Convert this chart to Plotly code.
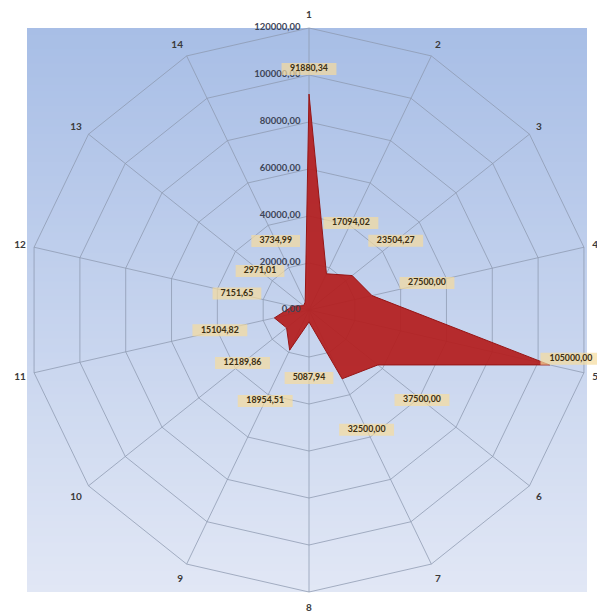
import plotly.graph_objects as go

# Categories and values
categories = [str(i) for i in range(1, 15)]
values = [91880.34, 17094.02, 23504.27, 27500.00, 105000.00, 37500.00, 32500.00,
          5087.94, 18954.51, 12189.86, 15104.82, 7151.65, 2971.01, 3734.99]

# Radial axis ticks
radial_ticks = [0, 20000, 40000, 60000, 80000, 100000, 120000]

# Data-label placement: extra radius beyond each point, and small angular nudges (degrees)
label_pad = [10700, 24000, 23700, 24000, 8400, 24000, 24000,
             23900, 24000, 24000, 23800, 24300, 23700, 28900]
label_turn = [0, 0, 0, 0, -2.3, 0, 0, 0, 0, 0, 0, 0, 0, 0]

W, H = 597, 615
step = 360 / len(categories)


def fmt(v):
    return f"{v:.2f}".replace(".", ",")


labels = [fmt(v) for v in values]
label_r = [v + p for v, p in zip(values, label_pad)]
label_theta = [i * step + t for i, t in enumerate(label_turn)]
box_w = [4.4 * len(s) + 4 for s in labels]

fig = go.Figure()

# Filled series
fig.add_trace(go.Scatterpolar(
    r=values + [values[0]],
    theta=categories + [categories[0]],
    mode="lines",
    fill="toself",
    fillcolor="rgba(180,30,30,0.93)",
    line=dict(color="rgb(150,22,22)", width=1),
    hoverinfo="skip",
    showlegend=False,
))

# Radial scale labels, left of the vertical spoke
fig.add_trace(go.Scatterpolar(
    r=radial_ticks,
    theta=[0] * len(radial_ticks),
    thetaunit="degrees",
    mode="markers+text",
    marker=dict(size=12, opacity=0),
    text=[fmt(v) for v in radial_ticks],
    textposition="middle left",
    textfont=dict(family="Lato", size=9.5, color="#3e4658", weight=700),
    cliponaxis=False,
    hoverinfo="skip",
    showlegend=False,
    subplot="polar2",
))

# Label backgrounds (wide bars drawn as thick horizontal line markers)
fig.add_trace(go.Scatterpolar(
    r=label_r,
    theta=label_theta,
    thetaunit="degrees",
    mode="markers",
    marker=dict(symbol="line-ew", size=box_w,
                line=dict(color="#f6dc9e", width=12)),
    cliponaxis=False,
    hoverinfo="skip",
    showlegend=False,
    subplot="polar2",
))

# Label texts
fig.add_trace(go.Scatterpolar(
    r=label_r,
    theta=label_theta,
    mode="text",
    text=labels,
    textposition="middle center",
    textfont=dict(family="Lato", size=8.8, color="#3b2e12", weight=700),
    cliponaxis=False,
    hoverinfo="skip",
    showlegend=False,
    subplot="polar2",
))

# Background gradient behind the plot area
x0, x1 = 27 / W, 587 / W
y_top, y_bot = 1 - 28 / H, 1 - 592 / H
top_c = (168, 190, 230)
bot_c = (225, 231, 245)
n = 80
shapes = []
for k in range(n):
    f = k / (n - 1)
    c = tuple(round(top_c[j] + (bot_c[j] - top_c[j]) * f) for j in range(3))
    ya = y_top - (y_top - y_bot) * k / n
    yb = y_top - (y_top - y_bot) * (k + 1) / n
    if k < n - 1:
        yb -= 0.004
    shapes.append(dict(type="rect", xref="paper", yref="paper",
                       x0=x0, x1=x1, y0=max(yb, y_bot), y1=ya,
                       fillcolor=f"rgb{c}", line=dict(width=0), layer="below"))

dom = dict(x=[27 / W, 591 / W], y=[1 - 592 / H, 1 - 28 / H])
grid_c = "rgba(140,152,175,0.75)"

polar_common = dict(
    domain=dom,
    bgcolor="rgba(0,0,0,0)",
    gridshape="linear",
)

fig.update_layout(
    width=W, height=H,
    margin=dict(l=0, r=0, t=0, b=0),
    paper_bgcolor="white",
    separators=", ",
    shapes=shapes,
    polar=dict(
        **polar_common,
        angularaxis=dict(
            direction="clockwise", rotation=90,
            type="category", categoryarray=categories,
            gridcolor=grid_c, linecolor=grid_c, linewidth=1,
            ticks="outside", ticklen=6, tickcolor="rgba(0,0,0,0)",
            tickfont=dict(family="Lato", size=10, color="#3a3a3a", weight=700),
        ),
        radialaxis=dict(
            range=[0, 120000], tickvals=radial_ticks,
            showticklabels=False, ticks="",
            angle=90, showline=False, gridcolor=grid_c,
        ),
    ),
    polar2=dict(
        **polar_common,
        angularaxis=dict(direction="clockwise", rotation=90, visible=False,
                         showgrid=False),
        radialaxis=dict(range=[0, 120000], visible=False, showgrid=False),
    ),
)

fig.write_html("out.html")
